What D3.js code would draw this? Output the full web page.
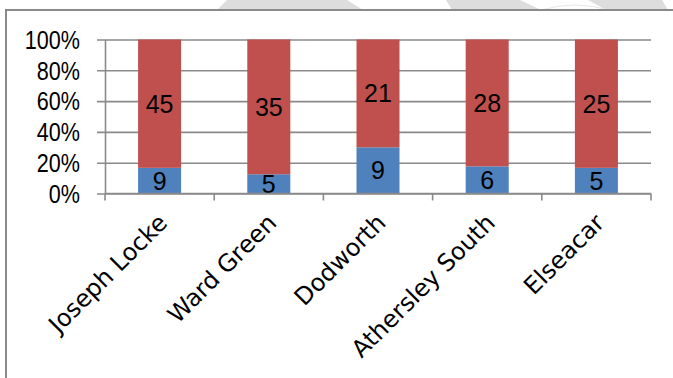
<!DOCTYPE html>
<html>
<head>
<meta charset="utf-8">
<script src="https://cdn.jsdelivr.net/npm/d3@7/dist/d3.min.js"></script>
<style>
  html, body { margin: 0; padding: 0; background: #ffffff; }
  svg { display: block; }
</style>
</head>
<body>
<svg id="chart" width="673" height="378"></svg>
<script>
// Survey counts per site, shown as a 100% stacked column chart
const categories = ["Joseph Locke", "Ward Green", "Dodworth", "Athersley South", "Elseacar"];
const blueValues = [9, 5, 9, 6, 5];
const redValues  = [45, 35, 21, 28, 25];
const yTicks     = [0, 0.2, 0.4, 0.6, 0.8, 1];
const yTickLabels = ["0%", "20%", "40%", "60%", "80%", "100%"];

const seriesColors = ["#4F81BD", "#C0504D"];
const axisColor = "#8a8a8a";

const svg = d3.select("#chart");

// faint header shapes above the chart frame
const headerShapes = [
  [[227, 0], [347, 0], [363, 10], [217, 10]],
  [[446, 0], [520, 0], [541, 10], [452, 10]],
  [[588, 0], [662, 0], [668, 10], [606, 10]]
];
svg.selectAll("path.header")
  .data(headerShapes)
  .join("path")
  .attr("class", "header")
  .attr("d", d => d3.line()(d) + "Z")
  .attr("fill", "#dddddd");
svg.append("path")
  .attr("d", "M541,10 Q575,0 609,10")
  .attr("fill", "none")
  .attr("stroke", "#e6e6e6")
  .attr("stroke-width", 1);

// chart frame (only its left and top edges fall inside the view)
svg.append("rect")
  .attr("x", 6).attr("y", 10)
  .attr("width", 700).attr("height", 420)
  .attr("fill", "none")
  .attr("stroke", axisColor)
  .attr("stroke-width", 2);

const plot = { left: 105, right: 651, top: 39.5, bottom: 193.5 };

const x = d3.scaleBand()
  .domain(categories)
  .range([plot.left, plot.right])
  .paddingInner(0.606)
  .paddingOuter(0.303);

const y = d3.scaleLinear()
  .domain([0, 1])
  .range([plot.bottom, plot.top]);

// y axis with horizontal gridlines
const yAxis = svg.append("g")
  .attr("transform", `translate(${plot.left},0)`)
  .call(d3.axisLeft(y)
    .tickValues(yTicks)
    .tickFormat("")
    .tickSizeOuter(0));
yAxis.select(".domain").attr("stroke", axisColor).attr("stroke-width", 1.6);
yAxis.selectAll(".tick line")
  .attr("x1", -8)
  .attr("x2", plot.right - plot.left)
  .attr("stroke", axisColor)
  .attr("stroke-width", 1.6);

// condensed percentage labels
svg.append("g").selectAll("text")
  .data(yTicks)
  .join("text")
  .attr("transform", d => `translate(80,${y(d)}) scale(0.83,1)`)
  .attr("text-anchor", "end")
  .attr("dy", "0.36em")
  .attr("font-family", "'Liberation Sans', Arial, sans-serif")
  .attr("font-size", 26)
  .attr("fill", "#000")
  .text((d, i) => yTickLabels[i]);

// stacked data, normalised to 100%
const rows = categories.map((c, i) => ({ cat: c, blue: blueValues[i], red: redValues[i] }));
const stack = d3.stack().keys(["blue", "red"]).offset(d3.stackOffsetExpand);
const layers = stack(rows);

const groups = svg.selectAll("g.layer")
  .data(layers)
  .join("g")
  .attr("class", "layer")
  .attr("fill", (d, i) => seriesColors[i]);

groups.selectAll("rect")
  .data(d => d)
  .join("rect")
  .attr("x", d => x(d.data.cat))
  .attr("width", x.bandwidth())
  .attr("y", d => y(d[1]))
  .attr("height", d => y(d[0]) - y(d[1]));

// value labels centred in each segment
layers.forEach(layer => {
  svg.append("g").selectAll("text")
    .data(layer)
    .join("text")
    .attr("x", d => x(d.data.cat) + x.bandwidth() / 2)
    .attr("y", d => (y(d[0]) + y(d[1])) / 2)
    .attr("dy", "0.36em")
    .attr("text-anchor", "middle")
    .attr("font-family", "'Liberation Sans', Arial, sans-serif")
    .attr("font-size", 25)
    .attr("fill", "#000")
    .text(d => d.data[layer.key]);
});

// x axis baseline with ticks between categories
const xAxis = svg.append("g");
xAxis.append("line")
  .attr("x1", plot.left).attr("x2", plot.right)
  .attr("y1", plot.bottom).attr("y2", plot.bottom)
  .attr("stroke", axisColor).attr("stroke-width", 1.6);
const boundaries = d3.range(categories.length + 1).map(i => plot.left + i * x.step());
xAxis.selectAll("line.tick")
  .data(boundaries)
  .join("line")
  .attr("class", "tick")
  .attr("x1", d => d).attr("x2", d => d)
  .attr("y1", plot.bottom).attr("y2", plot.bottom + 7)
  .attr("stroke", axisColor).attr("stroke-width", 1.6);

// rotated category labels
xAxis.selectAll("text")
  .data(categories)
  .join("text")
  .attr("transform", d => `translate(${x(d) + x.bandwidth() / 2 - 3},${212}) rotate(-45)`)
  .attr("text-anchor", "end")
  .attr("dy", "0.72em")
  .attr("font-family", "'DejaVu Sans', Verdana, sans-serif")
  .attr("font-size", 24)
  .attr("fill", "#000")
  .text(d => d);
</script>
</body>
</html>
